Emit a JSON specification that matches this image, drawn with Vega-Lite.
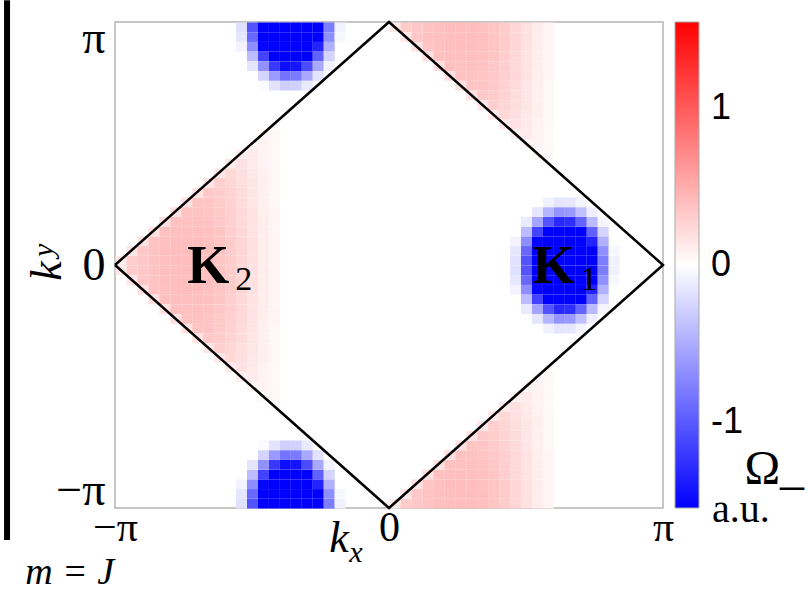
{
"$schema": "https://vega.github.io/schema/vega-lite/v6.json",
"width": 548,
"height": 486,
"autosize": {"type": "none"},
"padding": {"left": 115, "top": 22, "right": 145, "bottom": 84},
"background": "white",
"config": {"view": {"stroke": "#b4b4b4", "strokeWidth": 1.5}, "text": {"font": "Liberation Serif", "color": "black"}},
"datasets": {
"curvature": [
{"kx":-0.98,"ky":0.02,"omega":0.14},{"kx":-0.98,"ky":-0.02,"omega":0.14},
{"kx":-0.94,"ky":0.02,"omega":0.31},{"kx":-0.94,"ky":-0.02,"omega":0.31},{"kx":-0.94,"ky":0.06,"omega":0.16},{"kx":-0.94,"ky":-0.06,"omega":0.16},
{"kx":-0.9,"ky":0.02,"omega":0.34},{"kx":-0.9,"ky":-0.02,"omega":0.34},{"kx":-0.9,"ky":0.06,"omega":0.34},{"kx":-0.9,"ky":-0.06,"omega":0.34},{"kx":-0.9,"ky":0.1,"omega":0.17},{"kx":-0.9,"ky":-0.1,"omega":0.17},
{"kx":-0.86,"ky":0.02,"omega":0.37},{"kx":-0.86,"ky":-0.02,"omega":0.37},{"kx":-0.86,"ky":0.06,"omega":0.37},{"kx":-0.86,"ky":-0.06,"omega":0.37},{"kx":-0.86,"ky":0.1,"omega":0.36},{"kx":-0.86,"ky":-0.1,"omega":0.36},{"kx":-0.86,"ky":0.14,"omega":0.18},{"kx":-0.86,"ky":-0.14,"omega":0.18},
{"kx":-0.82,"ky":0.02,"omega":0.39},{"kx":-0.82,"ky":-0.02,"omega":0.39},{"kx":-0.82,"ky":0.06,"omega":0.39},{"kx":-0.82,"ky":-0.06,"omega":0.39},{"kx":-0.82,"ky":0.1,"omega":0.38},{"kx":-0.82,"ky":-0.1,"omega":0.38},{"kx":-0.82,"ky":0.14,"omega":0.38},{"kx":-0.82,"ky":-0.14,"omega":0.38},{"kx":-0.82,"ky":0.18,"omega":0.19},{"kx":-0.82,"ky":-0.18,"omega":0.19},
{"kx":-0.78,"ky":0.02,"omega":0.4},{"kx":-0.78,"ky":-0.02,"omega":0.4},{"kx":-0.78,"ky":0.06,"omega":0.4},{"kx":-0.78,"ky":-0.06,"omega":0.4},{"kx":-0.78,"ky":0.1,"omega":0.4},{"kx":-0.78,"ky":-0.1,"omega":0.4},{"kx":-0.78,"ky":0.14,"omega":0.39},{"kx":-0.78,"ky":-0.14,"omega":0.39},{"kx":-0.78,"ky":0.18,"omega":0.38},{"kx":-0.78,"ky":-0.18,"omega":0.38},{"kx":-0.78,"ky":0.22,"omega":0.19},{"kx":-0.78,"ky":-0.22,"omega":0.19},
{"kx":-0.74,"ky":0.02,"omega":0.4},{"kx":-0.74,"ky":-0.02,"omega":0.4},{"kx":-0.74,"ky":0.06,"omega":0.4},{"kx":-0.74,"ky":-0.06,"omega":0.4},{"kx":-0.74,"ky":0.1,"omega":0.4},{"kx":-0.74,"ky":-0.1,"omega":0.4},{"kx":-0.74,"ky":0.14,"omega":0.39},{"kx":-0.74,"ky":-0.14,"omega":0.39},{"kx":-0.74,"ky":0.18,"omega":0.38},{"kx":-0.74,"ky":-0.18,"omega":0.38},{"kx":-0.74,"ky":0.22,"omega":0.37},{"kx":-0.74,"ky":-0.22,"omega":0.37},{"kx":-0.74,"ky":0.26,"omega":0.18},{"kx":-0.74,"ky":-0.26,"omega":0.18},
{"kx":-0.7,"ky":0.02,"omega":0.4},{"kx":-0.7,"ky":-0.02,"omega":0.4},{"kx":-0.7,"ky":0.06,"omega":0.4},{"kx":-0.7,"ky":-0.06,"omega":0.4},{"kx":-0.7,"ky":0.1,"omega":0.4},{"kx":-0.7,"ky":-0.1,"omega":0.4},{"kx":-0.7,"ky":0.14,"omega":0.39},{"kx":-0.7,"ky":-0.14,"omega":0.39},{"kx":-0.7,"ky":0.18,"omega":0.38},{"kx":-0.7,"ky":-0.18,"omega":0.38},{"kx":-0.7,"ky":0.22,"omega":0.37},{"kx":-0.7,"ky":-0.22,"omega":0.37},{"kx":-0.7,"ky":0.26,"omega":0.36},{"kx":-0.7,"ky":-0.26,"omega":0.36},{"kx":-0.7,"ky":0.3,"omega":0.17},{"kx":-0.7,"ky":-0.3,"omega":0.17},
{"kx":-0.66,"ky":0.02,"omega":0.39},{"kx":-0.66,"ky":-0.02,"omega":0.39},{"kx":-0.66,"ky":0.06,"omega":0.39},{"kx":-0.66,"ky":-0.06,"omega":0.39},{"kx":-0.66,"ky":0.1,"omega":0.38},{"kx":-0.66,"ky":-0.1,"omega":0.38},{"kx":-0.66,"ky":0.14,"omega":0.38},{"kx":-0.66,"ky":-0.14,"omega":0.38},{"kx":-0.66,"ky":0.18,"omega":0.37},{"kx":-0.66,"ky":-0.18,"omega":0.37},{"kx":-0.66,"ky":0.22,"omega":0.36},{"kx":-0.66,"ky":-0.22,"omega":0.36},{"kx":-0.66,"ky":0.26,"omega":0.35},{"kx":-0.66,"ky":-0.26,"omega":0.35},{"kx":-0.66,"ky":0.3,"omega":0.33},{"kx":-0.66,"ky":-0.3,"omega":0.33},{"kx":-0.66,"ky":0.34,"omega":0.16},{"kx":-0.66,"ky":-0.34,"omega":0.16},
{"kx":-0.62,"ky":0.02,"omega":0.36},{"kx":-0.62,"ky":-0.02,"omega":0.36},{"kx":-0.62,"ky":0.06,"omega":0.36},{"kx":-0.62,"ky":-0.06,"omega":0.36},{"kx":-0.62,"ky":0.1,"omega":0.36},{"kx":-0.62,"ky":-0.1,"omega":0.36},{"kx":-0.62,"ky":0.14,"omega":0.35},{"kx":-0.62,"ky":-0.14,"omega":0.35},{"kx":-0.62,"ky":0.18,"omega":0.34},{"kx":-0.62,"ky":-0.18,"omega":0.34},{"kx":-0.62,"ky":0.22,"omega":0.33},{"kx":-0.62,"ky":-0.22,"omega":0.33},{"kx":-0.62,"ky":0.26,"omega":0.32},{"kx":-0.62,"ky":-0.26,"omega":0.32},{"kx":-0.62,"ky":0.3,"omega":0.31},{"kx":-0.62,"ky":-0.3,"omega":0.31},{"kx":-0.62,"ky":0.34,"omega":0.29},{"kx":-0.62,"ky":-0.34,"omega":0.29},{"kx":-0.62,"ky":0.38,"omega":0.14},{"kx":-0.62,"ky":-0.38,"omega":0.14},
{"kx":-0.58,"ky":0.02,"omega":0.31},{"kx":-0.58,"ky":-0.02,"omega":0.31},{"kx":-0.58,"ky":0.06,"omega":0.31},{"kx":-0.58,"ky":-0.06,"omega":0.31},{"kx":-0.58,"ky":0.1,"omega":0.31},{"kx":-0.58,"ky":-0.1,"omega":0.31},{"kx":-0.58,"ky":0.14,"omega":0.3},{"kx":-0.58,"ky":-0.14,"omega":0.3},{"kx":-0.58,"ky":0.18,"omega":0.3},{"kx":-0.58,"ky":-0.18,"omega":0.3},{"kx":-0.58,"ky":0.22,"omega":0.29},{"kx":-0.58,"ky":-0.22,"omega":0.29},{"kx":-0.58,"ky":0.26,"omega":0.28},{"kx":-0.58,"ky":-0.26,"omega":0.28},{"kx":-0.58,"ky":0.3,"omega":0.27},{"kx":-0.58,"ky":-0.3,"omega":0.27},{"kx":-0.58,"ky":0.34,"omega":0.25},{"kx":-0.58,"ky":-0.34,"omega":0.25},{"kx":-0.58,"ky":0.38,"omega":0.24},{"kx":-0.58,"ky":-0.38,"omega":0.24},{"kx":-0.58,"ky":0.42,"omega":0.12},{"kx":-0.58,"ky":-0.42,"omega":0.12},
{"kx":-0.54,"ky":0.02,"omega":0.25},{"kx":-0.54,"ky":-0.02,"omega":0.25},{"kx":-0.54,"ky":0.06,"omega":0.25},{"kx":-0.54,"ky":-0.06,"omega":0.25},{"kx":-0.54,"ky":0.1,"omega":0.25},{"kx":-0.54,"ky":-0.1,"omega":0.25},{"kx":-0.54,"ky":0.14,"omega":0.24},{"kx":-0.54,"ky":-0.14,"omega":0.24},{"kx":-0.54,"ky":0.18,"omega":0.24},{"kx":-0.54,"ky":-0.18,"omega":0.24},{"kx":-0.54,"ky":0.22,"omega":0.23},{"kx":-0.54,"ky":-0.22,"omega":0.23},{"kx":-0.54,"ky":0.26,"omega":0.22},{"kx":-0.54,"ky":-0.26,"omega":0.22},{"kx":-0.54,"ky":0.3,"omega":0.21},{"kx":-0.54,"ky":-0.3,"omega":0.21},{"kx":-0.54,"ky":0.34,"omega":0.2},{"kx":-0.54,"ky":-0.34,"omega":0.2},{"kx":-0.54,"ky":0.38,"omega":0.19},{"kx":-0.54,"ky":-0.38,"omega":0.19},{"kx":-0.54,"ky":0.42,"omega":0.18},{"kx":-0.54,"ky":-0.42,"omega":0.18},{"kx":-0.54,"ky":0.46,"omega":0.09},{"kx":-0.54,"ky":-0.46,"omega":0.09},
{"kx":-0.5,"ky":0.02,"omega":0.18},{"kx":-0.5,"ky":-0.02,"omega":0.18},{"kx":-0.5,"ky":0.06,"omega":0.18},{"kx":-0.5,"ky":-0.06,"omega":0.18},{"kx":-0.5,"ky":0.1,"omega":0.18},{"kx":-0.5,"ky":-0.1,"omega":0.18},{"kx":-0.5,"ky":0.14,"omega":0.17},{"kx":-0.5,"ky":-0.14,"omega":0.17},{"kx":-0.5,"ky":0.18,"omega":0.17},{"kx":-0.5,"ky":-0.18,"omega":0.17},{"kx":-0.5,"ky":0.22,"omega":0.17},{"kx":-0.5,"ky":-0.22,"omega":0.17},{"kx":-0.5,"ky":0.26,"omega":0.16},{"kx":-0.5,"ky":-0.26,"omega":0.16},{"kx":-0.5,"ky":0.3,"omega":0.15},{"kx":-0.5,"ky":-0.3,"omega":0.15},{"kx":-0.5,"ky":0.34,"omega":0.15},{"kx":-0.5,"ky":-0.34,"omega":0.15},{"kx":-0.5,"ky":0.38,"omega":0.14},{"kx":-0.5,"ky":-0.38,"omega":0.14},{"kx":-0.5,"ky":0.42,"omega":0.13},{"kx":-0.5,"ky":-0.42,"omega":0.13},{"kx":-0.5,"ky":0.46,"omega":0.12},{"kx":-0.5,"ky":-0.46,"omega":0.12},{"kx":-0.5,"ky":0.5,"omega":0.06},{"kx":-0.5,"ky":-0.5,"omega":0.06},
{"kx":-0.46,"ky":0.02,"omega":0.11},{"kx":-0.46,"ky":-0.02,"omega":0.11},{"kx":-0.46,"ky":0.06,"omega":0.11},{"kx":-0.46,"ky":-0.06,"omega":0.11},{"kx":-0.46,"ky":0.1,"omega":0.11},{"kx":-0.46,"ky":-0.1,"omega":0.11},{"kx":-0.46,"ky":0.14,"omega":0.11},{"kx":-0.46,"ky":-0.14,"omega":0.11},{"kx":-0.46,"ky":0.18,"omega":0.11},{"kx":-0.46,"ky":-0.18,"omega":0.11},{"kx":-0.46,"ky":0.22,"omega":0.1},{"kx":-0.46,"ky":-0.22,"omega":0.1},{"kx":-0.46,"ky":0.26,"omega":0.1},{"kx":-0.46,"ky":-0.26,"omega":0.1},{"kx":-0.46,"ky":0.3,"omega":0.1},{"kx":-0.46,"ky":-0.3,"omega":0.1},{"kx":-0.46,"ky":0.34,"omega":0.09},{"kx":-0.46,"ky":-0.34,"omega":0.09},{"kx":-0.46,"ky":0.38,"omega":0.09},{"kx":-0.46,"ky":-0.38,"omega":0.09},{"kx":-0.46,"ky":0.42,"omega":0.08},{"kx":-0.46,"ky":-0.42,"omega":0.08},{"kx":-0.46,"ky":0.46,"omega":0.08},{"kx":-0.46,"ky":-0.46,"omega":0.08},{"kx":-0.46,"ky":0.5,"omega":0.07},{"kx":-0.46,"ky":-0.5,"omega":0.07},{"kx":-0.46,"ky":0.54,"omega":0.04},{"kx":-0.46,"ky":-0.54,"omega":0.04},
{"kx":-0.42,"ky":0.02,"omega":0.06},{"kx":-0.42,"ky":-0.02,"omega":0.06},{"kx":-0.42,"ky":0.06,"omega":0.06},{"kx":-0.42,"ky":-0.06,"omega":0.06},{"kx":-0.42,"ky":0.1,"omega":0.06},{"kx":-0.42,"ky":-0.1,"omega":0.06},{"kx":-0.42,"ky":0.14,"omega":0.06},{"kx":-0.42,"ky":-0.14,"omega":0.06},{"kx":-0.42,"ky":0.18,"omega":0.06},{"kx":-0.42,"ky":-0.18,"omega":0.06},{"kx":-0.42,"ky":0.22,"omega":0.06},{"kx":-0.42,"ky":-0.22,"omega":0.06},{"kx":-0.42,"ky":0.26,"omega":0.05},{"kx":-0.42,"ky":-0.26,"omega":0.05},{"kx":-0.42,"ky":0.3,"omega":0.05},{"kx":-0.42,"ky":-0.3,"omega":0.05},{"kx":-0.42,"ky":0.34,"omega":0.05},{"kx":-0.42,"ky":-0.34,"omega":0.05},{"kx":-0.42,"ky":0.38,"omega":0.05},{"kx":-0.42,"ky":-0.38,"omega":0.05},{"kx":-0.42,"ky":0.42,"omega":0.04},{"kx":-0.42,"ky":-0.42,"omega":0.04},{"kx":-0.42,"ky":0.46,"omega":0.04},{"kx":-0.42,"ky":-0.46,"omega":0.04},{"kx":-0.42,"ky":0.5,"omega":0.04},{"kx":-0.42,"ky":-0.5,"omega":0.04},{"kx":-0.42,"ky":0.54,"omega":0.04},{"kx":-0.42,"ky":-0.54,"omega":0.04},{"kx":-0.42,"ky":0.58,"omega":0.02},{"kx":-0.42,"ky":-0.58,"omega":0.02},
{"kx":0.02,"ky":0.98,"omega":0.14},{"kx":0.02,"ky":-0.98,"omega":0.14},
{"kx":0.06,"ky":0.98,"omega":0.31},{"kx":0.06,"ky":-0.98,"omega":0.31},{"kx":0.06,"ky":0.94,"omega":0.16},{"kx":0.06,"ky":-0.94,"omega":0.16},
{"kx":0.1,"ky":0.98,"omega":0.34},{"kx":0.1,"ky":-0.98,"omega":0.34},{"kx":0.1,"ky":0.94,"omega":0.34},{"kx":0.1,"ky":-0.94,"omega":0.34},{"kx":0.1,"ky":0.9,"omega":0.17},{"kx":0.1,"ky":-0.9,"omega":0.17},
{"kx":0.14,"ky":0.98,"omega":0.37},{"kx":0.14,"ky":-0.98,"omega":0.37},{"kx":0.14,"ky":0.94,"omega":0.37},{"kx":0.14,"ky":-0.94,"omega":0.37},{"kx":0.14,"ky":0.9,"omega":0.36},{"kx":0.14,"ky":-0.9,"omega":0.36},{"kx":0.14,"ky":0.86,"omega":0.18},{"kx":0.14,"ky":-0.86,"omega":0.18},
{"kx":0.18,"ky":0.98,"omega":0.39},{"kx":0.18,"ky":-0.98,"omega":0.39},{"kx":0.18,"ky":0.94,"omega":0.39},{"kx":0.18,"ky":-0.94,"omega":0.39},{"kx":0.18,"ky":0.9,"omega":0.38},{"kx":0.18,"ky":-0.9,"omega":0.38},{"kx":0.18,"ky":0.86,"omega":0.38},{"kx":0.18,"ky":-0.86,"omega":0.38},{"kx":0.18,"ky":0.82,"omega":0.19},{"kx":0.18,"ky":-0.82,"omega":0.19},
{"kx":0.22,"ky":0.98,"omega":0.4},{"kx":0.22,"ky":-0.98,"omega":0.4},{"kx":0.22,"ky":0.94,"omega":0.4},{"kx":0.22,"ky":-0.94,"omega":0.4},{"kx":0.22,"ky":0.9,"omega":0.4},{"kx":0.22,"ky":-0.9,"omega":0.4},{"kx":0.22,"ky":0.86,"omega":0.39},{"kx":0.22,"ky":-0.86,"omega":0.39},{"kx":0.22,"ky":0.82,"omega":0.38},{"kx":0.22,"ky":-0.82,"omega":0.38},{"kx":0.22,"ky":0.78,"omega":0.19},{"kx":0.22,"ky":-0.78,"omega":0.19},
{"kx":0.26,"ky":0.98,"omega":0.4},{"kx":0.26,"ky":-0.98,"omega":0.4},{"kx":0.26,"ky":0.94,"omega":0.4},{"kx":0.26,"ky":-0.94,"omega":0.4},{"kx":0.26,"ky":0.9,"omega":0.4},{"kx":0.26,"ky":-0.9,"omega":0.4},{"kx":0.26,"ky":0.86,"omega":0.39},{"kx":0.26,"ky":-0.86,"omega":0.39},{"kx":0.26,"ky":0.82,"omega":0.38},{"kx":0.26,"ky":-0.82,"omega":0.38},{"kx":0.26,"ky":0.78,"omega":0.37},{"kx":0.26,"ky":-0.78,"omega":0.37},{"kx":0.26,"ky":0.74,"omega":0.18},{"kx":0.26,"ky":-0.74,"omega":0.18},
{"kx":0.3,"ky":0.98,"omega":0.4},{"kx":0.3,"ky":-0.98,"omega":0.4},{"kx":0.3,"ky":0.94,"omega":0.4},{"kx":0.3,"ky":-0.94,"omega":0.4},{"kx":0.3,"ky":0.9,"omega":0.4},{"kx":0.3,"ky":-0.9,"omega":0.4},{"kx":0.3,"ky":0.86,"omega":0.39},{"kx":0.3,"ky":-0.86,"omega":0.39},{"kx":0.3,"ky":0.82,"omega":0.38},{"kx":0.3,"ky":-0.82,"omega":0.38},{"kx":0.3,"ky":0.78,"omega":0.37},{"kx":0.3,"ky":-0.78,"omega":0.37},{"kx":0.3,"ky":0.74,"omega":0.36},{"kx":0.3,"ky":-0.74,"omega":0.36},{"kx":0.3,"ky":0.7,"omega":0.17},{"kx":0.3,"ky":-0.7,"omega":0.17},
{"kx":0.34,"ky":0.98,"omega":0.39},{"kx":0.34,"ky":-0.98,"omega":0.39},{"kx":0.34,"ky":0.94,"omega":0.39},{"kx":0.34,"ky":-0.94,"omega":0.39},{"kx":0.34,"ky":0.9,"omega":0.38},{"kx":0.34,"ky":-0.9,"omega":0.38},{"kx":0.34,"ky":0.86,"omega":0.38},{"kx":0.34,"ky":-0.86,"omega":0.38},{"kx":0.34,"ky":0.82,"omega":0.37},{"kx":0.34,"ky":-0.82,"omega":0.37},{"kx":0.34,"ky":0.78,"omega":0.36},{"kx":0.34,"ky":-0.78,"omega":0.36},{"kx":0.34,"ky":0.74,"omega":0.35},{"kx":0.34,"ky":-0.74,"omega":0.35},{"kx":0.34,"ky":0.7,"omega":0.33},{"kx":0.34,"ky":-0.7,"omega":0.33},{"kx":0.34,"ky":0.66,"omega":0.16},{"kx":0.34,"ky":-0.66,"omega":0.16},
{"kx":0.38,"ky":0.98,"omega":0.36},{"kx":0.38,"ky":-0.98,"omega":0.36},{"kx":0.38,"ky":0.94,"omega":0.36},{"kx":0.38,"ky":-0.94,"omega":0.36},{"kx":0.38,"ky":0.9,"omega":0.36},{"kx":0.38,"ky":-0.9,"omega":0.36},{"kx":0.38,"ky":0.86,"omega":0.35},{"kx":0.38,"ky":-0.86,"omega":0.35},{"kx":0.38,"ky":0.82,"omega":0.34},{"kx":0.38,"ky":-0.82,"omega":0.34},{"kx":0.38,"ky":0.78,"omega":0.33},{"kx":0.38,"ky":-0.78,"omega":0.33},{"kx":0.38,"ky":0.74,"omega":0.32},{"kx":0.38,"ky":-0.74,"omega":0.32},{"kx":0.38,"ky":0.7,"omega":0.31},{"kx":0.38,"ky":-0.7,"omega":0.31},{"kx":0.38,"ky":0.66,"omega":0.29},{"kx":0.38,"ky":-0.66,"omega":0.29},{"kx":0.38,"ky":0.62,"omega":0.14},{"kx":0.38,"ky":-0.62,"omega":0.14},
{"kx":0.42,"ky":0.98,"omega":0.31},{"kx":0.42,"ky":-0.98,"omega":0.31},{"kx":0.42,"ky":0.94,"omega":0.31},{"kx":0.42,"ky":-0.94,"omega":0.31},{"kx":0.42,"ky":0.9,"omega":0.31},{"kx":0.42,"ky":-0.9,"omega":0.31},{"kx":0.42,"ky":0.86,"omega":0.3},{"kx":0.42,"ky":-0.86,"omega":0.3},{"kx":0.42,"ky":0.82,"omega":0.3},{"kx":0.42,"ky":-0.82,"omega":0.3},{"kx":0.42,"ky":0.78,"omega":0.29},{"kx":0.42,"ky":-0.78,"omega":0.29},{"kx":0.42,"ky":0.74,"omega":0.28},{"kx":0.42,"ky":-0.74,"omega":0.28},{"kx":0.42,"ky":0.7,"omega":0.27},{"kx":0.42,"ky":-0.7,"omega":0.27},{"kx":0.42,"ky":0.66,"omega":0.25},{"kx":0.42,"ky":-0.66,"omega":0.25},{"kx":0.42,"ky":0.62,"omega":0.24},{"kx":0.42,"ky":-0.62,"omega":0.24},{"kx":0.42,"ky":0.58,"omega":0.12},{"kx":0.42,"ky":-0.58,"omega":0.12},
{"kx":0.46,"ky":0.98,"omega":0.25},{"kx":0.46,"ky":-0.98,"omega":0.25},{"kx":0.46,"ky":0.94,"omega":0.25},{"kx":0.46,"ky":-0.94,"omega":0.25},{"kx":0.46,"ky":0.9,"omega":0.25},{"kx":0.46,"ky":-0.9,"omega":0.25},{"kx":0.46,"ky":0.86,"omega":0.24},{"kx":0.46,"ky":-0.86,"omega":0.24},{"kx":0.46,"ky":0.82,"omega":0.24},{"kx":0.46,"ky":-0.82,"omega":0.24},{"kx":0.46,"ky":0.78,"omega":0.23},{"kx":0.46,"ky":-0.78,"omega":0.23},{"kx":0.46,"ky":0.74,"omega":0.22},{"kx":0.46,"ky":-0.74,"omega":0.22},{"kx":0.46,"ky":0.7,"omega":0.21},{"kx":0.46,"ky":-0.7,"omega":0.21},{"kx":0.46,"ky":0.66,"omega":0.2},{"kx":0.46,"ky":-0.66,"omega":0.2},{"kx":0.46,"ky":0.62,"omega":0.19},{"kx":0.46,"ky":-0.62,"omega":0.19},{"kx":0.46,"ky":0.58,"omega":0.18},{"kx":0.46,"ky":-0.58,"omega":0.18},{"kx":0.46,"ky":0.54,"omega":0.09},{"kx":0.46,"ky":-0.54,"omega":0.09},
{"kx":0.5,"ky":0.98,"omega":0.18},{"kx":0.5,"ky":-0.98,"omega":0.18},{"kx":0.5,"ky":0.94,"omega":0.18},{"kx":0.5,"ky":-0.94,"omega":0.18},{"kx":0.5,"ky":0.9,"omega":0.18},{"kx":0.5,"ky":-0.9,"omega":0.18},{"kx":0.5,"ky":0.86,"omega":0.17},{"kx":0.5,"ky":-0.86,"omega":0.17},{"kx":0.5,"ky":0.82,"omega":0.17},{"kx":0.5,"ky":-0.82,"omega":0.17},{"kx":0.5,"ky":0.78,"omega":0.17},{"kx":0.5,"ky":-0.78,"omega":0.17},{"kx":0.5,"ky":0.74,"omega":0.16},{"kx":0.5,"ky":-0.74,"omega":0.16},{"kx":0.5,"ky":0.7,"omega":0.15},{"kx":0.5,"ky":-0.7,"omega":0.15},{"kx":0.5,"ky":0.66,"omega":0.15},{"kx":0.5,"ky":-0.66,"omega":0.15},{"kx":0.5,"ky":0.62,"omega":0.14},{"kx":0.5,"ky":-0.62,"omega":0.14},{"kx":0.5,"ky":0.58,"omega":0.13},{"kx":0.5,"ky":-0.58,"omega":0.13},{"kx":0.5,"ky":0.54,"omega":0.12},{"kx":0.5,"ky":-0.54,"omega":0.12},{"kx":0.5,"ky":0.5,"omega":0.06},{"kx":0.5,"ky":-0.5,"omega":0.06},
{"kx":0.54,"ky":0.98,"omega":0.11},{"kx":0.54,"ky":-0.98,"omega":0.11},{"kx":0.54,"ky":0.94,"omega":0.11},{"kx":0.54,"ky":-0.94,"omega":0.11},{"kx":0.54,"ky":0.9,"omega":0.11},{"kx":0.54,"ky":-0.9,"omega":0.11},{"kx":0.54,"ky":0.86,"omega":0.11},{"kx":0.54,"ky":-0.86,"omega":0.11},{"kx":0.54,"ky":0.82,"omega":0.11},{"kx":0.54,"ky":-0.82,"omega":0.11},{"kx":0.54,"ky":0.78,"omega":0.1},{"kx":0.54,"ky":-0.78,"omega":0.1},{"kx":0.54,"ky":0.74,"omega":0.1},{"kx":0.54,"ky":-0.74,"omega":0.1},{"kx":0.54,"ky":0.7,"omega":0.1},{"kx":0.54,"ky":-0.7,"omega":0.1},{"kx":0.54,"ky":0.66,"omega":0.09},{"kx":0.54,"ky":-0.66,"omega":0.09},{"kx":0.54,"ky":0.62,"omega":0.09},{"kx":0.54,"ky":-0.62,"omega":0.09},{"kx":0.54,"ky":0.58,"omega":0.08},{"kx":0.54,"ky":-0.58,"omega":0.08},{"kx":0.54,"ky":0.54,"omega":0.08},{"kx":0.54,"ky":-0.54,"omega":0.08},{"kx":0.54,"ky":0.5,"omega":0.07},{"kx":0.54,"ky":-0.5,"omega":0.07},{"kx":0.54,"ky":0.46,"omega":0.04},{"kx":0.54,"ky":-0.46,"omega":0.04},
{"kx":0.58,"ky":0.98,"omega":0.06},{"kx":0.58,"ky":-0.98,"omega":0.06},{"kx":0.58,"ky":0.94,"omega":0.06},{"kx":0.58,"ky":-0.94,"omega":0.06},{"kx":0.58,"ky":0.9,"omega":0.06},{"kx":0.58,"ky":-0.9,"omega":0.06},{"kx":0.58,"ky":0.86,"omega":0.06},{"kx":0.58,"ky":-0.86,"omega":0.06},{"kx":0.58,"ky":0.82,"omega":0.06},{"kx":0.58,"ky":-0.82,"omega":0.06},{"kx":0.58,"ky":0.78,"omega":0.06},{"kx":0.58,"ky":-0.78,"omega":0.06},{"kx":0.58,"ky":0.74,"omega":0.05},{"kx":0.58,"ky":-0.74,"omega":0.05},{"kx":0.58,"ky":0.7,"omega":0.05},{"kx":0.58,"ky":-0.7,"omega":0.05},{"kx":0.58,"ky":0.66,"omega":0.05},{"kx":0.58,"ky":-0.66,"omega":0.05},{"kx":0.58,"ky":0.62,"omega":0.05},{"kx":0.58,"ky":-0.62,"omega":0.05},{"kx":0.58,"ky":0.58,"omega":0.04},{"kx":0.58,"ky":-0.58,"omega":0.04},{"kx":0.58,"ky":0.54,"omega":0.04},{"kx":0.58,"ky":-0.54,"omega":0.04},{"kx":0.58,"ky":0.5,"omega":0.04},{"kx":0.58,"ky":-0.5,"omega":0.04},{"kx":0.58,"ky":0.46,"omega":0.04},{"kx":0.58,"ky":-0.46,"omega":0.04},{"kx":0.58,"ky":0.42,"omega":0.02},{"kx":0.58,"ky":-0.42,"omega":0.02},
{"kx":0.46,"ky":0.02,"omega":-0.19},{"kx":0.46,"ky":-0.02,"omega":-0.19},{"kx":0.46,"ky":0.06,"omega":-0.15},{"kx":0.46,"ky":-0.06,"omega":-0.15},{"kx":0.46,"ky":0.1,"omega":-0.07},{"kx":0.46,"ky":-0.1,"omega":-0.07},
{"kx":0.5,"ky":0.02,"omega":-1.04},{"kx":0.5,"ky":-0.02,"omega":-1.04},{"kx":0.5,"ky":0.06,"omega":-0.92},{"kx":0.5,"ky":-0.06,"omega":-0.92},{"kx":0.5,"ky":0.1,"omega":-0.69},{"kx":0.5,"ky":-0.1,"omega":-0.69},{"kx":0.5,"ky":0.14,"omega":-0.41},{"kx":0.5,"ky":-0.14,"omega":-0.41},{"kx":0.5,"ky":0.18,"omega":-0.12},{"kx":0.5,"ky":-0.18,"omega":-0.12},
{"kx":0.54,"ky":0.02,"omega":-1.6},{"kx":0.54,"ky":-0.02,"omega":-1.6},{"kx":0.54,"ky":0.06,"omega":-1.6},{"kx":0.54,"ky":-0.06,"omega":-1.6},{"kx":0.54,"ky":0.1,"omega":-1.52},{"kx":0.54,"ky":-0.1,"omega":-1.52},{"kx":0.54,"ky":0.14,"omega":-1.15},{"kx":0.54,"ky":-0.14,"omega":-1.15},{"kx":0.54,"ky":0.18,"omega":-0.55},{"kx":0.54,"ky":-0.18,"omega":-0.55},{"kx":0.54,"ky":0.22,"omega":-0.15},{"kx":0.54,"ky":-0.22,"omega":-0.15},
{"kx":0.58,"ky":0.02,"omega":-1.6},{"kx":0.58,"ky":-0.02,"omega":-1.6},{"kx":0.58,"ky":0.06,"omega":-1.6},{"kx":0.58,"ky":-0.06,"omega":-1.6},{"kx":0.58,"ky":0.1,"omega":-1.6},{"kx":0.58,"ky":-0.1,"omega":-1.6},{"kx":0.58,"ky":0.14,"omega":-1.6},{"kx":0.58,"ky":-0.14,"omega":-1.6},{"kx":0.58,"ky":0.18,"omega":-1.05},{"kx":0.58,"ky":-0.18,"omega":-1.05},{"kx":0.58,"ky":0.22,"omega":-0.45},{"kx":0.58,"ky":-0.22,"omega":-0.45},{"kx":0.58,"ky":0.26,"omega":-0.08},{"kx":0.58,"ky":-0.26,"omega":-0.08},
{"kx":0.62,"ky":0.02,"omega":-1.6},{"kx":0.62,"ky":-0.02,"omega":-1.6},{"kx":0.62,"ky":0.06,"omega":-1.6},{"kx":0.62,"ky":-0.06,"omega":-1.6},{"kx":0.62,"ky":0.1,"omega":-1.6},{"kx":0.62,"ky":-0.1,"omega":-1.6},{"kx":0.62,"ky":0.14,"omega":-1.6},{"kx":0.62,"ky":-0.14,"omega":-1.6},{"kx":0.62,"ky":0.18,"omega":-1.3},{"kx":0.62,"ky":-0.18,"omega":-1.3},{"kx":0.62,"ky":0.22,"omega":-0.65},{"kx":0.62,"ky":-0.22,"omega":-0.65},{"kx":0.62,"ky":0.26,"omega":-0.16},{"kx":0.62,"ky":-0.26,"omega":-0.16},
{"kx":0.66,"ky":0.02,"omega":-1.6},{"kx":0.66,"ky":-0.02,"omega":-1.6},{"kx":0.66,"ky":0.06,"omega":-1.6},{"kx":0.66,"ky":-0.06,"omega":-1.6},{"kx":0.66,"ky":0.1,"omega":-1.6},{"kx":0.66,"ky":-0.1,"omega":-1.6},{"kx":0.66,"ky":0.14,"omega":-1.6},{"kx":0.66,"ky":-0.14,"omega":-1.6},{"kx":0.66,"ky":0.18,"omega":-1.27},{"kx":0.66,"ky":-0.18,"omega":-1.27},{"kx":0.66,"ky":0.22,"omega":-0.62},{"kx":0.66,"ky":-0.22,"omega":-0.62},{"kx":0.66,"ky":0.26,"omega":-0.15},{"kx":0.66,"ky":-0.26,"omega":-0.15},
{"kx":0.7,"ky":0.02,"omega":-1.6},{"kx":0.7,"ky":-0.02,"omega":-1.6},{"kx":0.7,"ky":0.06,"omega":-1.6},{"kx":0.7,"ky":-0.06,"omega":-1.6},{"kx":0.7,"ky":0.1,"omega":-1.6},{"kx":0.7,"ky":-0.1,"omega":-1.6},{"kx":0.7,"ky":0.14,"omega":-1.56},{"kx":0.7,"ky":-0.14,"omega":-1.56},{"kx":0.7,"ky":0.18,"omega":-0.95},{"kx":0.7,"ky":-0.18,"omega":-0.95},{"kx":0.7,"ky":0.22,"omega":-0.38},{"kx":0.7,"ky":-0.22,"omega":-0.38},{"kx":0.7,"ky":0.26,"omega":-0.06},{"kx":0.7,"ky":-0.26,"omega":-0.06},
{"kx":0.74,"ky":0.02,"omega":-1.6},{"kx":0.74,"ky":-0.02,"omega":-1.6},{"kx":0.74,"ky":0.06,"omega":-1.56},{"kx":0.74,"ky":-0.06,"omega":-1.56},{"kx":0.74,"ky":0.1,"omega":-1.34},{"kx":0.74,"ky":-0.1,"omega":-1.34},{"kx":0.74,"ky":0.14,"omega":-0.96},{"kx":0.74,"ky":-0.14,"omega":-0.96},{"kx":0.74,"ky":0.18,"omega":-0.42},{"kx":0.74,"ky":-0.18,"omega":-0.42},{"kx":0.74,"ky":0.22,"omega":-0.1},{"kx":0.74,"ky":-0.22,"omega":-0.1},
{"kx":0.78,"ky":0.02,"omega":-0.79},{"kx":0.78,"ky":-0.02,"omega":-0.79},{"kx":0.78,"ky":0.06,"omega":-0.68},{"kx":0.78,"ky":-0.06,"omega":-0.68},{"kx":0.78,"ky":0.1,"omega":-0.48},{"kx":0.78,"ky":-0.1,"omega":-0.48},{"kx":0.78,"ky":0.14,"omega":-0.26},{"kx":0.78,"ky":-0.14,"omega":-0.26},{"kx":0.78,"ky":0.18,"omega":-0.06},{"kx":0.78,"ky":-0.18,"omega":-0.06},
{"kx":0.82,"ky":0.02,"omega":-0.08},{"kx":0.82,"ky":-0.02,"omega":-0.08},{"kx":0.82,"ky":0.06,"omega":-0.05},{"kx":0.82,"ky":-0.06,"omega":-0.05},
{"kx":-0.54,"ky":0.98,"omega":-0.19},{"kx":-0.54,"ky":-0.98,"omega":-0.19},{"kx":-0.54,"ky":0.94,"omega":-0.15},{"kx":-0.54,"ky":-0.94,"omega":-0.15},{"kx":-0.54,"ky":0.9,"omega":-0.07},{"kx":-0.54,"ky":-0.9,"omega":-0.07},
{"kx":-0.5,"ky":0.98,"omega":-1.04},{"kx":-0.5,"ky":-0.98,"omega":-1.04},{"kx":-0.5,"ky":0.94,"omega":-0.92},{"kx":-0.5,"ky":-0.94,"omega":-0.92},{"kx":-0.5,"ky":0.9,"omega":-0.69},{"kx":-0.5,"ky":-0.9,"omega":-0.69},{"kx":-0.5,"ky":0.86,"omega":-0.41},{"kx":-0.5,"ky":-0.86,"omega":-0.41},{"kx":-0.5,"ky":0.82,"omega":-0.16},{"kx":-0.5,"ky":-0.82,"omega":-0.16},
{"kx":-0.46,"ky":0.98,"omega":-1.6},{"kx":-0.46,"ky":-0.98,"omega":-1.6},{"kx":-0.46,"ky":0.94,"omega":-1.6},{"kx":-0.46,"ky":-0.94,"omega":-1.6},{"kx":-0.46,"ky":0.9,"omega":-1.52},{"kx":-0.46,"ky":-0.9,"omega":-1.52},{"kx":-0.46,"ky":0.86,"omega":-1.15},{"kx":-0.46,"ky":-0.86,"omega":-1.15},{"kx":-0.46,"ky":0.82,"omega":-0.67},{"kx":-0.46,"ky":-0.82,"omega":-0.67},{"kx":-0.46,"ky":0.78,"omega":-0.26},{"kx":-0.46,"ky":-0.78,"omega":-0.26},{"kx":-0.46,"ky":0.74,"omega":-0.03},{"kx":-0.46,"ky":-0.74,"omega":-0.03},
{"kx":-0.42,"ky":0.98,"omega":-1.6},{"kx":-0.42,"ky":-0.98,"omega":-1.6},{"kx":-0.42,"ky":0.94,"omega":-1.6},{"kx":-0.42,"ky":-0.94,"omega":-1.6},{"kx":-0.42,"ky":0.9,"omega":-1.6},{"kx":-0.42,"ky":-0.9,"omega":-1.6},{"kx":-0.42,"ky":0.86,"omega":-1.6},{"kx":-0.42,"ky":-0.86,"omega":-1.6},{"kx":-0.42,"ky":0.82,"omega":-1.21},{"kx":-0.42,"ky":-0.82,"omega":-1.21},{"kx":-0.42,"ky":0.78,"omega":-0.62},{"kx":-0.42,"ky":-0.78,"omega":-0.62},{"kx":-0.42,"ky":0.74,"omega":-0.17},{"kx":-0.42,"ky":-0.74,"omega":-0.17},
{"kx":-0.38,"ky":0.98,"omega":-1.6},{"kx":-0.38,"ky":-0.98,"omega":-1.6},{"kx":-0.38,"ky":0.94,"omega":-1.6},{"kx":-0.38,"ky":-0.94,"omega":-1.6},{"kx":-0.38,"ky":0.9,"omega":-1.6},{"kx":-0.38,"ky":-0.9,"omega":-1.6},{"kx":-0.38,"ky":0.86,"omega":-1.6},{"kx":-0.38,"ky":-0.86,"omega":-1.6},{"kx":-0.38,"ky":0.82,"omega":-1.47},{"kx":-0.38,"ky":-0.82,"omega":-1.47},{"kx":-0.38,"ky":0.78,"omega":-0.85},{"kx":-0.38,"ky":-0.78,"omega":-0.85},{"kx":-0.38,"ky":0.74,"omega":-0.3},{"kx":-0.38,"ky":-0.74,"omega":-0.3},
{"kx":-0.34,"ky":0.98,"omega":-1.6},{"kx":-0.34,"ky":-0.98,"omega":-1.6},{"kx":-0.34,"ky":0.94,"omega":-1.6},{"kx":-0.34,"ky":-0.94,"omega":-1.6},{"kx":-0.34,"ky":0.9,"omega":-1.6},{"kx":-0.34,"ky":-0.9,"omega":-1.6},{"kx":-0.34,"ky":0.86,"omega":-1.6},{"kx":-0.34,"ky":-0.86,"omega":-1.6},{"kx":-0.34,"ky":0.82,"omega":-1.43},{"kx":-0.34,"ky":-0.82,"omega":-1.43},{"kx":-0.34,"ky":0.78,"omega":-0.81},{"kx":-0.34,"ky":-0.78,"omega":-0.81},{"kx":-0.34,"ky":0.74,"omega":-0.28},{"kx":-0.34,"ky":-0.74,"omega":-0.28},
{"kx":-0.3,"ky":0.98,"omega":-1.6},{"kx":-0.3,"ky":-0.98,"omega":-1.6},{"kx":-0.3,"ky":0.94,"omega":-1.6},{"kx":-0.3,"ky":-0.94,"omega":-1.6},{"kx":-0.3,"ky":0.9,"omega":-1.6},{"kx":-0.3,"ky":-0.9,"omega":-1.6},{"kx":-0.3,"ky":0.86,"omega":-1.56},{"kx":-0.3,"ky":-0.86,"omega":-1.56},{"kx":-0.3,"ky":0.82,"omega":-1.1},{"kx":-0.3,"ky":-0.82,"omega":-1.1},{"kx":-0.3,"ky":0.78,"omega":-0.53},{"kx":-0.3,"ky":-0.78,"omega":-0.53},{"kx":-0.3,"ky":0.74,"omega":-0.13},{"kx":-0.3,"ky":-0.74,"omega":-0.13},
{"kx":-0.26,"ky":0.98,"omega":-1.6},{"kx":-0.26,"ky":-0.98,"omega":-1.6},{"kx":-0.26,"ky":0.94,"omega":-1.56},{"kx":-0.26,"ky":-0.94,"omega":-1.56},{"kx":-0.26,"ky":0.9,"omega":-1.34},{"kx":-0.26,"ky":-0.9,"omega":-1.34},{"kx":-0.26,"ky":0.86,"omega":-0.96},{"kx":-0.26,"ky":-0.86,"omega":-0.96},{"kx":-0.26,"ky":0.82,"omega":-0.53},{"kx":-0.26,"ky":-0.82,"omega":-0.53},{"kx":-0.26,"ky":0.78,"omega":-0.17},{"kx":-0.26,"ky":-0.78,"omega":-0.17},
{"kx":-0.22,"ky":0.98,"omega":-0.79},{"kx":-0.22,"ky":-0.98,"omega":-0.79},{"kx":-0.22,"ky":0.94,"omega":-0.68},{"kx":-0.22,"ky":-0.94,"omega":-0.68},{"kx":-0.22,"ky":0.9,"omega":-0.48},{"kx":-0.22,"ky":-0.9,"omega":-0.48},{"kx":-0.22,"ky":0.86,"omega":-0.26},{"kx":-0.22,"ky":-0.86,"omega":-0.26},{"kx":-0.22,"ky":0.82,"omega":-0.07},{"kx":-0.22,"ky":-0.82,"omega":-0.07},
{"kx":-0.18,"ky":0.98,"omega":-0.08},{"kx":-0.18,"ky":-0.98,"omega":-0.08},{"kx":-0.18,"ky":0.94,"omega":-0.05},{"kx":-0.18,"ky":-0.94,"omega":-0.05}
],
"zone": [
{"kx":-1,"ky":0,"step":0},{"kx":0,"ky":1,"step":1},{"kx":1,"ky":0,"step":2},{"kx":0,"ky":-1,"step":3},{"kx":-1,"ky":0,"step":4}
],
"valleys": [
{"kx":-0.66,"ky":-0.074,"point":"K","index":"2"},
{"kx":0.6,"ky":-0.074,"point":"K","index":"1"}
]
},
"layer": [
{
"data": {"name": "curvature"},
"mark": {"type": "rect", "binSpacing": 0},
"encoding": {
"x": {"field": "kx", "type": "quantitative", "bin": {"step": 0.04, "extent": [-1, 1]},
"scale": {"domain": [-1, 1], "nice": false, "zero": false},
"axis": {"values": [-1, 0, 1], "labelExpr": "datum.value == 0 ? '0' : (datum.value > 0 ? 'π' : '−π')", "title": null, "domain": false, "ticks": false, "grid": false, "labelFont": "Liberation Serif", "labelFontSize": 42, "labelColor": "black", "labelPadding": -1, "labelAngle": 0, "labelFlush": false}},
"y": {"field": "ky", "type": "quantitative", "bin": {"step": 0.04, "extent": [-1, 1]},
"scale": {"domain": [-1, 1], "nice": false, "zero": false},
"axis": {"values": [-1, 0, 1], "labelExpr": "datum.value == 0 ? '0' : (datum.value > 0 ? 'π' : '−π')", "title": null, "domain": false, "ticks": false, "grid": false, "labelFont": "Liberation Serif", "labelFontSize": 46, "labelColor": "black", "labelPadding": 10, "labelFlush": true, "labelFlushOffset": 6}},
"color": {"field": "omega", "type": "quantitative", "aggregate": "mean",
"scale": {"domain": [-1.55, 0, 1.55], "range": ["#0000ff", "#ffffff", "#ff0000"], "interpolate": "rgb", "clamp": true},
"legend": {"type": "gradient", "orient": "right", "offset": 12, "padding": 0, "title": null, "direction": "vertical", "gradientLength": 486, "gradientThickness": 24, "gradientStrokeColor": "#aaaaaa", "gradientStrokeWidth": 1, "values": [-1, 0, 1], "labelExpr": "datum.value < 0 ? '-1' : (datum.value > 0 ? '1' : '0')", "labelFont": "Liberation Sans", "labelFontSize": 36, "labelColor": "black", "labelOffset": 12, "labelOverlap": false}}
}
},
{
"data": {"name": "zone"},
"mark": {"type": "line", "color": "black", "strokeWidth": 2.5, "strokeJoin": "miter"},
"encoding": {
"x": {"field": "kx", "type": "quantitative"},
"y": {"field": "ky", "type": "quantitative"},
"order": {"field": "step", "type": "quantitative"}
}
},
{
"data": {"name": "valleys"},
"mark": {"type": "text", "font": "Liberation Serif", "fontWeight": "bold", "fontSize": 54, "align": "center", "baseline": "alphabetic"},
"encoding": {
"x": {"field": "kx", "type": "quantitative"},
"y": {"field": "ky", "type": "quantitative"},
"text": {"field": "point"}
}
},
{
"data": {"name": "valleys"},
"mark": {"type": "text", "font": "Liberation Serif", "fontSize": 34, "align": "left", "baseline": "alphabetic", "dx": 27, "dy": 7},
"encoding": {
"x": {"field": "kx", "type": "quantitative"},
"y": {"field": "ky", "type": "quantitative"},
"text": {"field": "index"}
}
},
{
"data": {"values": [{"kx": -0.182, "ky": -1.181, "letter": "k", "index": "x"}]},
"mark": {"type": "text", "font": "Liberation Serif", "fontStyle": "italic", "fontSize": 44, "align": "center", "baseline": "alphabetic"},
"encoding": {
"x": {"field": "kx", "type": "quantitative"},
"y": {"field": "ky", "type": "quantitative"},
"text": {"field": "letter"}
}
},
{
"data": {"values": [{"kx": -0.182, "ky": -1.181, "letter": "k", "index": "x"}]},
"mark": {"type": "text", "font": "Liberation Serif", "fontStyle": "italic", "fontSize": 30, "align": "left", "baseline": "alphabetic", "dx": 10, "dy": 10},
"encoding": {
"x": {"field": "kx", "type": "quantitative"},
"y": {"field": "ky", "type": "quantitative"},
"text": {"field": "index"}
}
},
{
"data": {"values": [{"kx": -1.197, "ky": -0.025, "letter": "k", "index": "y"}]},
"mark": {"type": "text", "font": "Liberation Serif", "fontStyle": "italic", "fontSize": 44, "align": "center", "baseline": "alphabetic", "angle": 270},
"encoding": {
"x": {"field": "kx", "type": "quantitative"},
"y": {"field": "ky", "type": "quantitative"},
"text": {"field": "letter"}
}
},
{
"data": {"values": [{"kx": -1.197, "ky": -0.025, "letter": "k", "index": "y"}]},
"mark": {"type": "text", "font": "Liberation Serif", "fontStyle": "italic", "fontSize": 30, "align": "left", "baseline": "alphabetic", "angle": 270, "dx": 14, "dy": -8},
"encoding": {
"x": {"field": "kx", "type": "quantitative"},
"y": {"field": "ky", "type": "quantitative"},
"text": {"field": "index"}
}
},
{
"data": {"values": [{"kx": 1.297, "ky": -0.9, "caption": "Ω_"}]},
"mark": {"type": "text", "font": "Liberation Serif", "fontSize": 48, "align": "left", "baseline": "alphabetic"},
"encoding": {
"x": {"field": "kx", "type": "quantitative"},
"y": {"field": "ky", "type": "quantitative"},
"text": {"field": "caption"}
}
},
{
"data": {"values": [{"kx": 1.179, "ky": -1.058, "caption": "a.u."}]},
"mark": {"type": "text", "font": "Liberation Serif", "fontSize": 40, "align": "left", "baseline": "alphabetic"},
"encoding": {
"x": {"field": "kx", "type": "quantitative"},
"y": {"field": "ky", "type": "quantitative"},
"text": {"field": "caption"}
}
},
{
"data": {"values": [{"kx": -1.328, "ky": -1.3107, "caption": "m = J"}]},
"mark": {"type": "text", "font": "Liberation Serif", "fontStyle": "italic", "fontSize": 38, "align": "left", "baseline": "alphabetic"},
"encoding": {
"x": {"field": "kx", "type": "quantitative"},
"y": {"field": "ky", "type": "quantitative"},
"text": {"field": "caption"}
}
},
{
"data": {"values": [{"kx": -1.394, "ky": 1.09, "end": -1.132}]},
"mark": {"type": "rule", "color": "black", "strokeWidth": 6},
"encoding": {
"x": {"field": "kx", "type": "quantitative"},
"y": {"field": "ky", "type": "quantitative"},
"y2": {"field": "end"}
}
}
]
}
